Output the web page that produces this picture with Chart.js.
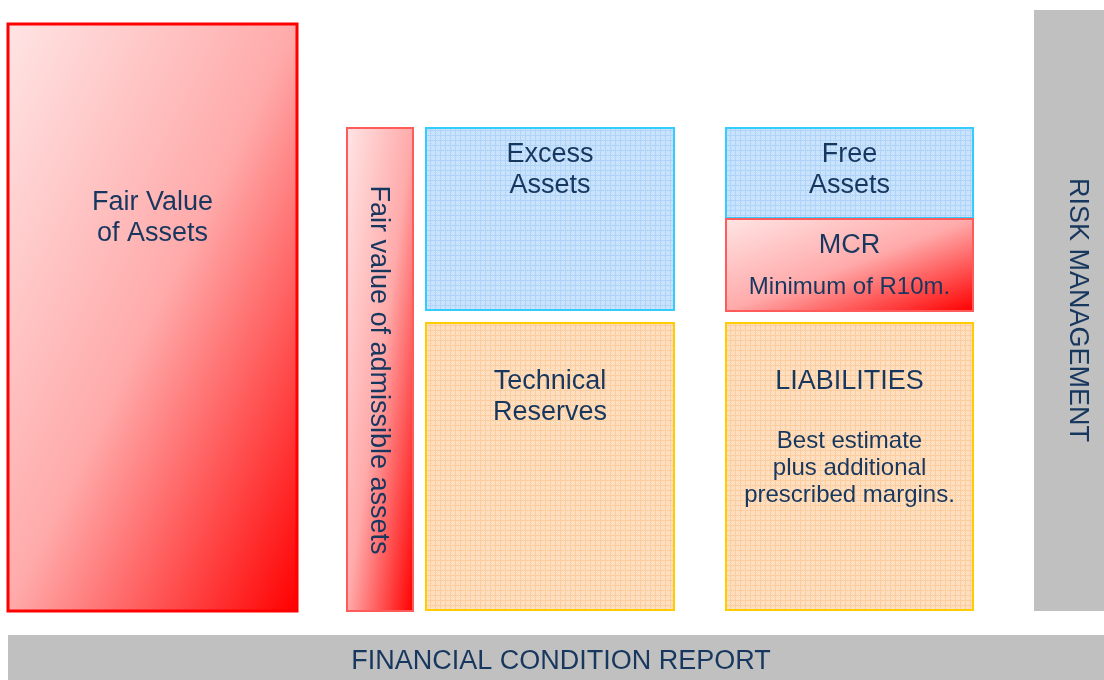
<!DOCTYPE html>
<html>
<head>
<meta charset="utf-8">
<script src="https://cdn.jsdelivr.net/npm/chart.js@4.4.1/dist/chart.umd.min.js"></script>
<style>
  body { margin: 0; background: #fff; }
  #wrap { width: 1104px; height: 680px; position: relative; }
</style>
</head>
<body>
<div id="wrap"><canvas id="fcr"></canvas></div>
<script>
// texts of the diagram
const headings = ['Fair Value\nof Assets', 'Fair value of admissible assets', 'Excess\nAssets', 'Technical\nReserves',
  'Free\nAssets', 'MCR', 'LIABILITIES', 'RISK MANAGEMENT', 'FINANCIAL CONDITION REPORT'];
const notes = ['', '', '', '', '', 'Minimum of R10m.', 'Best estimate\nplus additional\nprescribed margins.', '', ''];

// where each block sits (diagram units = px of the 1104x680 frame)
const layout = [
  {x: [8, 297],    y: [24, 611],  fill: 'red',    border: '#ff0000', bw: 3, ty: 203},
  {x: [347, 413],  y: [128, 611], fill: 'red',    border: '#ff5b5b', bw: 2, tx: 378, ty: 370, rot: true},
  {x: [426, 674],  y: [128, 310], fill: 'blue',   border: '#33ccff', bw: 2, ty: 155},
  {x: [426, 674],  y: [323, 610], fill: 'orange', border: '#ffcc00', bw: 2, ty: 382},
  {x: [726, 973],  y: [128, 218], fill: 'blue',   border: '#33ccff', bw: 2, ty: 155},
  {x: [726, 973],  y: [219, 311], fill: 'red',    border: '#ff5b5b', bw: 2, ty: 246, ny: 287},
  {x: [726, 973],  y: [323, 610], fill: 'orange', border: '#ffcc00', bw: 2, ty: 382, ny: 441},
  {x: [1034, 1104], y: [10, 611], fill: 'grey',   border: 'rgba(0,0,0,0)', bw: 0, tx: 1077, ty: 310, rot: true},
  {x: [8, 1104],   y: [635, 680], fill: 'grey',   border: 'rgba(0,0,0,0)', bw: 0, tx: 561, ty: 662}
];

const textColor = '#17375e';
const font = '"Liberation Sans", Arial, sans-serif';

function makeTile(base, line, dot) {
  const c = document.createElement('canvas');
  c.width = 10; c.height = 10;
  const g = c.getContext('2d');
  g.fillStyle = base; g.fillRect(0, 0, 10, 10);
  g.fillStyle = dot;
  for (let i = 0; i < 10; i++) for (let j = 0; j < 10; j++) if ((i + j) % 2 === 0) g.fillRect(i, j, 1, 1);
  g.fillStyle = line;
  g.fillRect(0, 0, 10, 1); g.fillRect(0, 0, 1, 10);
  g.fillRect(0, 5, 10, 1); g.fillRect(5, 0, 1, 10);
  return c;
}
const tmpCtx = document.createElement('canvas').getContext('2d');
const bluePat = tmpCtx.createPattern(makeTile('#d0e6fd', '#b0d4f9', '#c3dffb'), 'repeat');
const orangePat = tmpCtx.createPattern(makeTile('#fee4cb', '#fbcd9f', '#fdd9b6'), 'repeat');

// gradient running corner to corner in the box's own frame (like an office shape fill)
function boxFill(c) {
  const L = layout[c.datasetIndex];
  if (L.fill === 'blue') return bluePat;
  if (L.fill === 'orange') return orangePat;
  if (L.fill === 'grey') return '#c0c0c0';
  const ch = c.chart, xs = ch.scales.x, ys = ch.scales.y;
  if (!xs || !ys || !ch.chartArea) return '#ff9090';
  const x0 = xs.getPixelForValue(L.x[0]), x1 = xs.getPixelForValue(L.x[1]);
  const y0 = ys.getPixelForValue(L.y[0]), y1 = ys.getPixelForValue(L.y[1]);
  const w = x1 - x0, h = y1 - y0, cx = (x0 + x1) / 2, cy = (y0 + y1) / 2;
  const k = (w * h) / (w * w + h * h);
  const g = ch.ctx.createLinearGradient(cx - h * k, cy - w * k, cx + h * k, cy + w * k);
  g.addColorStop(0, '#ffe4e4');
  g.addColorStop(0.5, '#ffaaaa');
  g.addColorStop(1, '#ff0000');
  return g;
}

const datasets = layout.map((L, i) => ({
  label: headings[i],
  data: [
    {x: L.x[0], y: L.y[0]}, {x: L.x[1], y: L.y[0]},
    {x: L.x[1], y: L.y[1]}, {x: L.x[0], y: L.y[1]},
    {x: L.x[0], y: L.y[0]}
  ],
  showLine: true,
  fill: 'shape',
  backgroundColor: boxFill,
  borderColor: L.border,
  borderWidth: L.bw,
  borderJoinStyle: 'miter',
  borderCapStyle: 'square',
  pointRadius: 0,
  pointHoverRadius: 0,
  tension: 0,
  clip: false,
  order: layout.length - i
}));

const labelPlugin = {
  id: 'boxLabels',
  afterDatasetsDraw(chart) {
    const ctx = chart.ctx, xs = chart.scales.x, ys = chart.scales.y;
    ctx.save();
    ctx.fillStyle = textColor;
    ctx.textAlign = 'center';
    ctx.textBaseline = 'middle';
    layout.forEach((L, i) => {
      const cx = xs.getPixelForValue(L.tx !== undefined ? L.tx : (L.x[0] + L.x[1]) / 2);
      const cy = ys.getPixelForValue(L.ty);
      ctx.font = '27px ' + font;
      if (L.rot) {
        ctx.save();
        ctx.translate(cx, cy);
        ctx.rotate(Math.PI / 2);
        ctx.fillText(headings[i], 0, 0);
        ctx.restore();
        return;
      }
      headings[i].split('\n').forEach((t, k) => ctx.fillText(t, cx, cy + k * 31));
      if (notes[i]) {
        ctx.font = '24px ' + font;
        const ny = ys.getPixelForValue(L.ny);
        notes[i].split('\n').forEach((t, k) => ctx.fillText(t, cx, ny + k * 27));
      }
    });
    ctx.restore();
  }
};

new Chart(document.getElementById('fcr'), {
  type: 'scatter',
  data: {datasets: datasets},
  plugins: [labelPlugin],
  options: {
    responsive: true,
    maintainAspectRatio: false,
    animation: false,
    events: [],
    layout: {padding: 0},
    plugins: {
      legend: {display: false},
      tooltip: {enabled: false},
      filler: {propagate: false}
    },
    scales: {
      x: {type: 'linear', min: 0, max: 1104, display: false},
      y: {type: 'linear', min: 0, max: 680, reverse: true, display: false}
    }
  }
});
</script>
</body>
</html>
